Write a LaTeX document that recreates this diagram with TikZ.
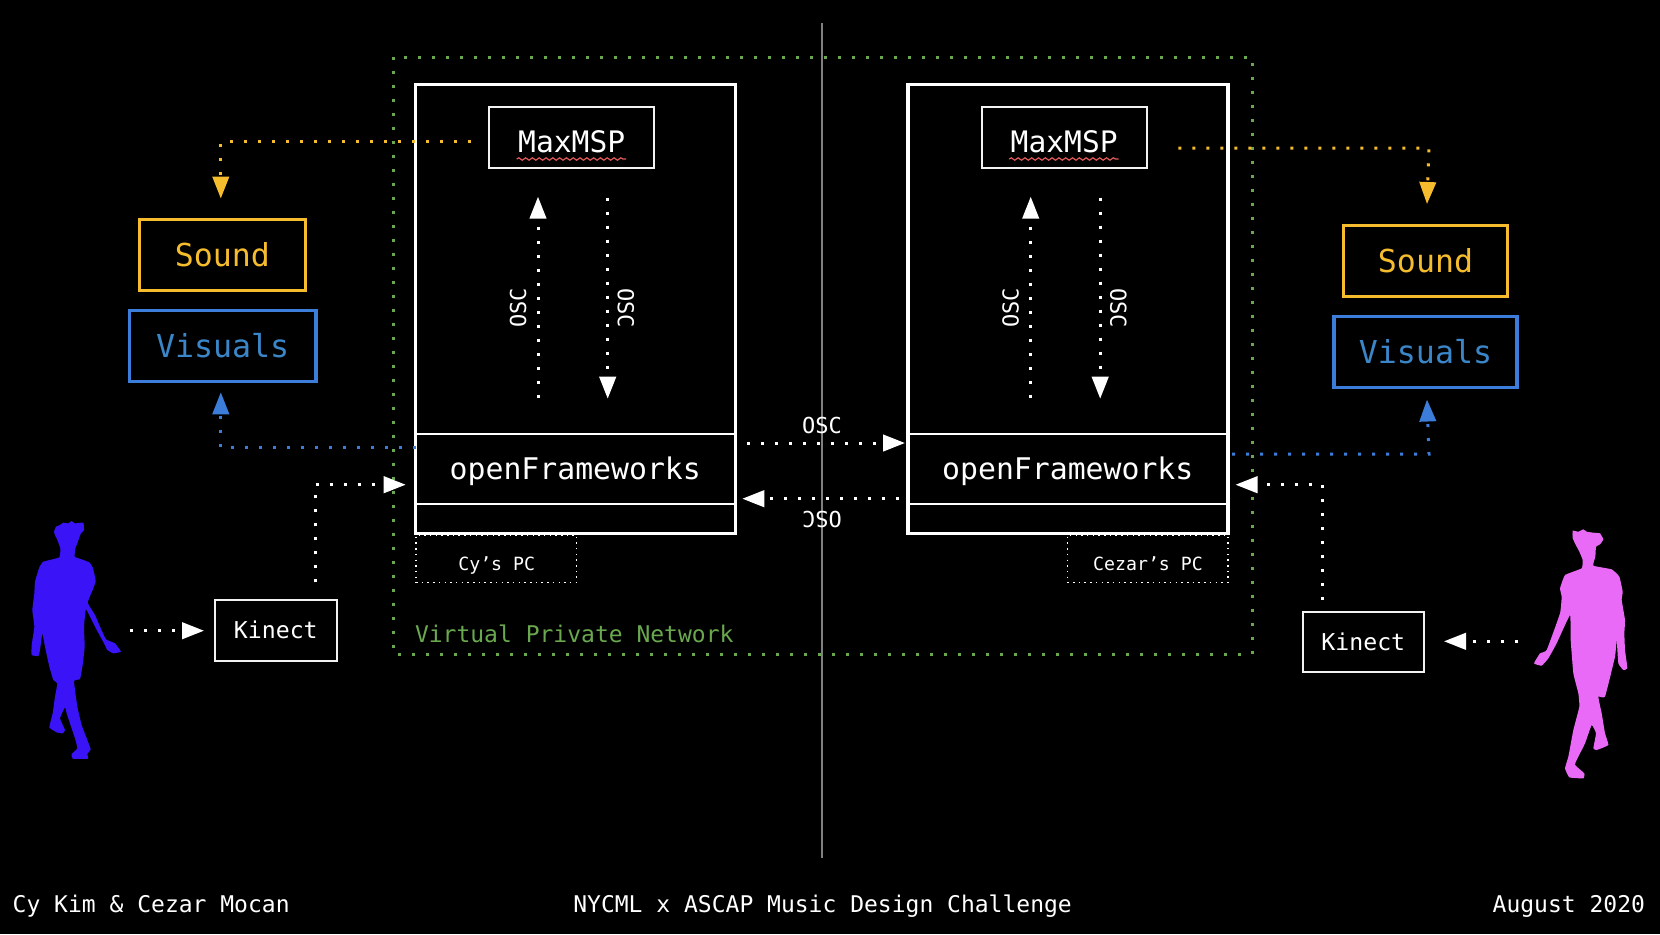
\documentclass[tikz,border=0pt]{standalone}
\usepackage{fontspec}
\setmainfont{DejaVu Sans Mono}
\usetikzlibrary{arrows.meta,decorations.pathmorphing}
\definecolor{syel}{HTML}{F5BC2E}
\definecolor{sblu}{HTML}{3B7DD8}
\definecolor{tblu}{HTML}{3A86C8}
\definecolor{sgrn}{HTML}{6AA84F}
\definecolor{pblu}{HTML}{3A14F6}
\definecolor{ppnk}{HTML}{E96AF6}
\definecolor{swht}{HTML}{F2F2F2}
\definecolor{sred}{HTML}{E25A5A}
\tikzset{
 lab/.style={inner sep=0pt,outer sep=0pt,text=white,text depth=0pt},
 fs/.style={font=\fontsize{#1}{#1}\selectfont,text height=#1*0.729pt},
 bx/.style={draw=swht,line width=1pt,inner sep=0pt,outer sep=0pt,minimum width=#1},
 big/.style={draw=white,line width=1.7pt,inner sep=0pt,outer sep=0pt},
 cbx/.style={line width=1.6pt,inner sep=0pt,outer sep=0pt,fill=black,text depth=0pt},
 pcb/.style={draw=white,line width=.75pt,dash pattern=on .75pt off 2.1pt,inner sep=0pt,outer sep=0pt},
 dots/.style={line width=1.5pt,dash pattern=on 1.5pt off 5.5pt},
 ar/.style={dots,-{Triangle[length=11pt,width=8.2pt]}},
 squig/.style={draw=sred,line width=.6pt,decorate,decoration={snake,amplitude=.6pt,segment length=3.4pt}}
}
\begin{document}
\begin{tikzpicture}[x=0.5pt,y=-0.5pt]
\useasboundingbox (0,0) rectangle (1660,934);
\fill[black] (0,0) rectangle (1660,934);
% network and divider
\coordinate (gtl) at (393.5,57);
\coordinate (gbr) at (1252,654.3);
\coordinate (dt) at (822,23);
\coordinate (db) at (822,857.5);
\draw[sgrn,dots] (gtl) rectangle (gbr);
\draw[draw=black!50,line width=1pt] (dt) -- (db);
% PCs
\node[big,minimum width=160pt,minimum height=224.5pt] (pc1) at (575.3,308.7) {};
\node[big,minimum width=160pt,minimum height=224.5pt] (pc2) at (1067.8,308.7) {};
\node[bx=160pt,minimum height=35pt,lab,text=white,fs=14.9,draw=white] (of1) at (575.3,469) {openFrameworks};
\node[bx=160pt,minimum height=35pt,lab,text=white,fs=14.9,draw=white] (of2) at (1067.8,469) {openFrameworks};
\node[bx=82.5pt,minimum height=30.5pt] (mx1) at (571.5,137.2) {};
\node[bx=82.5pt,minimum height=30.5pt] (mx2) at (1064,137.2) {};
\node[lab,fs=14.8] (mt1) at (571.7,142) {MaxMSP};
\node[lab,fs=14.8] (mt2) at (1064.2,142) {MaxMSP};
\coordinate (s1a) at (516.7,159); \coordinate (s1b) at (626,159);
\coordinate (s2a) at (1009.2,159); \coordinate (s2b) at (1118.5,159);
\draw[squig] (s1a) -- (s1b);
\draw[squig] (s2a) -- (s2b);
% internal OSC arrows
\coordinate (u1a) at (538,397.7); \coordinate (u1b) at (538,196.7);
\coordinate (d1a) at (607.7,197.7); \coordinate (d1b) at (607.7,398.7);
\coordinate (u2a) at (1030.7,397.7); \coordinate (u2b) at (1030.7,196.7);
\coordinate (d2a) at (1100.2,197.7); \coordinate (d2b) at (1100.2,398.7);
\draw[white,ar] (u1a) -- (u1b);
\draw[white,ar] (d1a) -- (d1b);
\draw[white,ar] (u2a) -- (u2b);
\draw[white,ar] (d2a) -- (d2b);
\node[lab,fs=11,rotate=90] (o1) at (518,308) {OSC};
\node[lab,fs=11,rotate=-90] (o2) at (626,308) {OSC};
\node[lab,fs=11,rotate=90] (o3) at (1010.5,308) {OSC};
\node[lab,fs=11,rotate=-90] (o4) at (1118.5,308) {OSC};
% middle OSC arrows
\coordinate (m1a) at (747.3,443); \coordinate (m1b) at (905,443);
\coordinate (m2a) at (899,498.7); \coordinate (m2b) at (742.3,498.7);
\draw[white,ar] (m1a) -- (m1b);
\draw[white,ar] (m2a) -- (m2b);
\node[lab,fs=11] (o5) at (822,425.3) {OSC};
\node[lab,fs=11,rotate=180] (o6) at (822,519.3) {OSC};
% PC labels
\node[pcb,minimum width=80.3pt,minimum height=23.8pt] (cy) at (496.3,558.8) {};
\node[pcb,minimum width=80.3pt,minimum height=23.8pt] (cz) at (1147.6,558.8) {};
\node[lab,fs=9.1] (cyt) at (496.7,563.5) {Cy’s PC};
\node[lab,fs=9.1] (czt) at (1148,563.5) {Cezar’s PC};
\node[lab,fs=11.5,text=sgrn,anchor=west] (vpn) at (415,634) {Virtual Private Network};
% output boxes
\node[cbx,draw=syel,text=syel,fs=15.8,minimum width=83.3pt,minimum height=35.8pt] (snd1) at (222.4,254.9) {Sound};
\node[cbx,draw=syel,text=syel,fs=15.8,minimum width=82pt,minimum height=35.5pt] (snd2) at (1425.5,261) {Sound};
\node[cbx,draw=sblu,text=tblu,fs=15.8,minimum width=93.3pt,minimum height=35.5pt] (vis1) at (222.6,346) {Visuals};
\node[cbx,draw=sblu,text=tblu,fs=15.8,minimum width=91.5pt,minimum height=35.5pt] (vis2) at (1425.5,352) {Visuals};
% output connectors
\coordinate (y1a) at (470.7,141.7); \coordinate (y1c) at (220.8,141.7); \coordinate (y1b) at (220.8,198.5);
\coordinate (y2a) at (1178.3,148); \coordinate (y2c) at (1429,148); \coordinate (y2b) at (1427,204);
\coordinate (b1a) at (415.7,447.7); \coordinate (b1c) at (220.8,447.7); \coordinate (b1b) at (220.8,392.3);
\coordinate (b2a) at (1232,454); \coordinate (b2c) at (1429,454); \coordinate (b2b) at (1427,399.5);
\draw[syel,ar] (y1a) -- (y1c) -- (y1b);
\draw[syel,ar] (y2a) -- (y2c) -- (y2b);
\draw[sblu,ar] (b1a) -- (b1c) -- (b1b);
\draw[sblu,ar] (b2a) -- (b2c) -- (b2b);
% kinects
\node[bx=60.8pt,minimum height=30.3pt,lab,text=white,fs=11.6,draw=swht] (k1) at (275.8,630.3) {Kinect};
\node[bx=60.7pt,minimum height=30.3pt,lab,text=white,fs=11.6,draw=swht] (k2) at (1363.3,642) {Kinect};
\coordinate (k1a) at (315.3,582.3); \coordinate (k1c) at (315.3,484.7); \coordinate (k1b) at (405.7,484.7);
\coordinate (k2a) at (1322.7,600); \coordinate (k2c) at (1322.7,484.7); \coordinate (k2b) at (1235.5,484.7);
\draw[white,ar] (k1a) -- (k1c) -- (k1b);
\draw[white,ar] (k2a) -- (k2c) -- (k2b);
\coordinate (p1a) at (130,630.7); \coordinate (p1b) at (204,630.7);
\coordinate (p2a) at (1518.3,641.3); \coordinate (p2b) at (1444,641.3);
\draw[white,ar] (p1a) -- (p1b);
\draw[white,ar] (p2a) -- (p2b);
% silhouettes
\begin{scope}[shift={(0,480)},x=0.16667pt,y=-0.16667pt]
\fill[pblu] plot[smooth cycle,tension=0.2] coordinates {
(162,155)(168,140)(180,135)(190,128)(205,130)(215,123)(225,130)(250,128)(252,150)(243,160)
(238,172)(232,190)(226,205)(224,230)(245,238)(268,247)(278,262)(285,290)(287,305)(278,330)
(263,368)(285,405)(300,440)(318,478)(345,490)(363,515)(340,520)(322,510)(312,490)(285,440)
(258,388)(252,440)(254,500)(248,555)(240,597)(222,603)(232,680)(245,735)(262,780)(272,808)
(262,822)(264,836)(218,836)(215,822)(232,805)(225,775)(200,700)(195,682)(180,715)(195,750)
(188,760)(170,757)(148,742)(158,700)(165,650)(172,610)(160,600)(148,560)(135,500)(127,460)
(120,510)(115,528)(95,525)(95,495)(103,440)(97,390)(103,340)(105,305)(118,262)(130,245)
(178,232)(181,205)(172,180)(165,165)};
\end{scope}
\begin{scope}[shift={(1300,500)},x=0.16667pt,y=-0.16667pt]
\fill[ppnk] plot[smooth cycle,tension=0.2] coordinates {
(818,92)(835,95)(850,88)(860,95)(880,98)(900,100)(910,118)(900,133)(888,140)(886,170)
(880,197)(935,208)(958,230)(968,275)(965,300)(975,360)(973,400)(975,450)(982,505)(970,510)
(955,490)(950,420)(945,470)(915,590)(895,590)(905,640)(915,700)(925,735)(890,750)(880,745)
(888,700)(875,675)(855,730)(830,780)(825,795)(853,820)(850,835)(808,832)(795,805)(805,770)
(820,690)(838,620)(835,580)(820,520)(812,420)(810,345)(770,430)(745,475)(725,497)(702,490)
(720,460)(740,450)(780,340)(785,290)(780,265)(795,225)(845,205)(848,180)(838,155)(830,140)(818,115)};
\end{scope}
% footer
\node[lab,fs=11.5,anchor=west] (f1) at (12.7,904) {Cy Kim \& Cezar Mocan};
\node[lab,fs=11.5] (f2) at (822.6,904) {NYCML x ASCAP Music Design Challenge};
\node[lab,fs=11.5,anchor=east] (f3) at (1645,904) {August 2020};
\end{tikzpicture}
\end{document}
